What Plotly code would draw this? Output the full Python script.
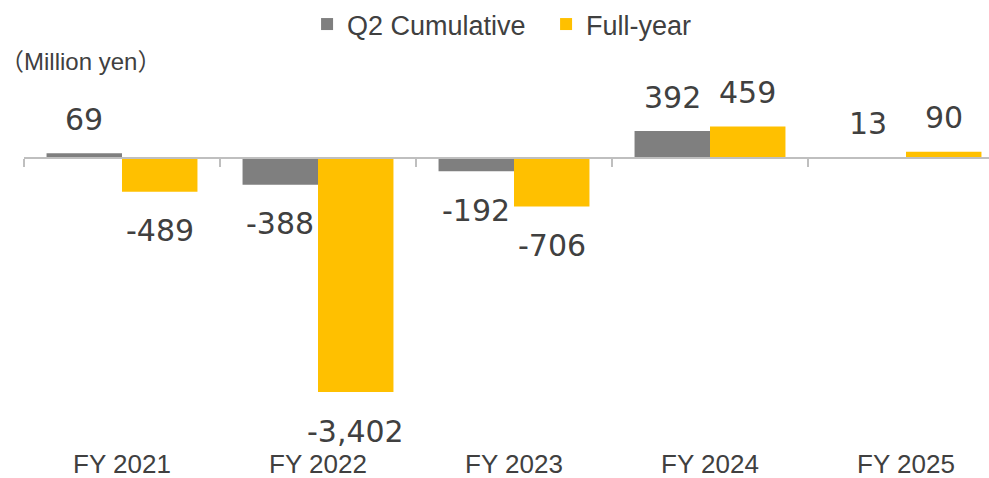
import plotly.graph_objects as go

categories = ["FY 2021", "FY 2022", "FY 2023", "FY 2024", "FY 2025"]
q2_cumulative = [69, -388, -192, 392, 13]
full_year = [-489, -3402, -706, 459, 90]
series_names = ["Q2 Cumulative", "Full-year"]
unit_label = "（Million yen）"

GRAY = "#7f7f7f"
YELLOW = "#ffc000"
TEXT = "#404040"
AXIS = "#bfbfbf"

W, H = 989, 478
ML, MR, MT, MB = 24, 0, 0, 32
plot_h = H - MT - MB
zero_px = 158
scale = 234 / 3402.0  # px per unit
y_max = (zero_px - MT) / scale
y_min = -(H - MB - zero_px) / scale
x_range = [-0.5, 4.5 - 15 / 196.0]

fig = go.Figure()
fig.add_trace(go.Bar(name=series_names[0], x=categories, y=q2_cumulative,
                     marker=dict(color=GRAY, line=dict(width=0))))
fig.add_trace(go.Bar(name=series_names[1], x=categories, y=full_year,
                     marker=dict(color=YELLOW, line=dict(width=0))))
# empty helper trace so that the zero-line axis (x2) is drawn
fig.add_trace(go.Scatter(x=[None], y=[None], xaxis="x2", yaxis="y",
                         showlegend=False, hoverinfo="skip", mode="markers"))

half = 196 * (1 - 0.23) / 4.0
for vals, sh in ((q2_cumulative, -half), (full_year, half)):
    for c, v in zip(categories, vals):
        fig.add_annotation(x=c, y=v, xref="x", yref="y", text=f"{v:,}",
                           showarrow=False, xshift=sh,
                           yshift=34 if v >= 0 else -39,
                           yanchor="middle",
                           font=dict(family="DejaVu Sans", size=30, color=TEXT))

fig.add_annotation(x=(-2 - ML) / (W - ML - MR), y=(H - MB - 62) / plot_h,
                   xref="paper", yref="paper", xanchor="left", yanchor="middle",
                   text=unit_label, showarrow=False,
                   font=dict(family="Liberation Sans, Noto Sans CJK JP", size=24, color=TEXT))

fig.update_layout(
    width=W, height=H,
    margin=dict(l=ML, r=MR, t=MT, b=MB, autoexpand=False),
    paper_bgcolor="white", plot_bgcolor="white",
    barmode="group", bargap=0.23, bargroupgap=0,
    hovermode=False,
    showlegend=True,
    legend=dict(orientation="h", x=0.541, xanchor="center",
                y=(H - MB) / plot_h, yanchor="top",
                font=dict(family="Liberation Sans", size=27, color=TEXT),
                tracegroupgap=0, entrywidth=194, entrywidthmode="pixels",
                bgcolor="rgba(0,0,0,0)"),
    xaxis=dict(type="category", range=x_range, showline=False, ticks="",
               showgrid=False, zeroline=False,
               tickfont=dict(family="Liberation Sans", size=26, color=TEXT)),
    xaxis2=dict(overlaying="x", anchor="free", position=(H - MB - zero_px) / plot_h,
                range=x_range, type="linear",
                tickvals=[-0.5, 0.5, 1.5, 2.5, 3.5, 4.5], showticklabels=False,
                showline=True, linecolor=AXIS, linewidth=1.5,
                ticks="outside", ticklen=8, tickcolor=AXIS, tickwidth=1.5,
                showgrid=False, zeroline=False),
    yaxis=dict(range=[y_min, y_max], visible=False, showgrid=False, zeroline=False),
)

fig.write_html("out.html", config={"displayModeBar": False},
               post_script="document.body.style.margin='0';document.body.style.overflow='hidden';")
